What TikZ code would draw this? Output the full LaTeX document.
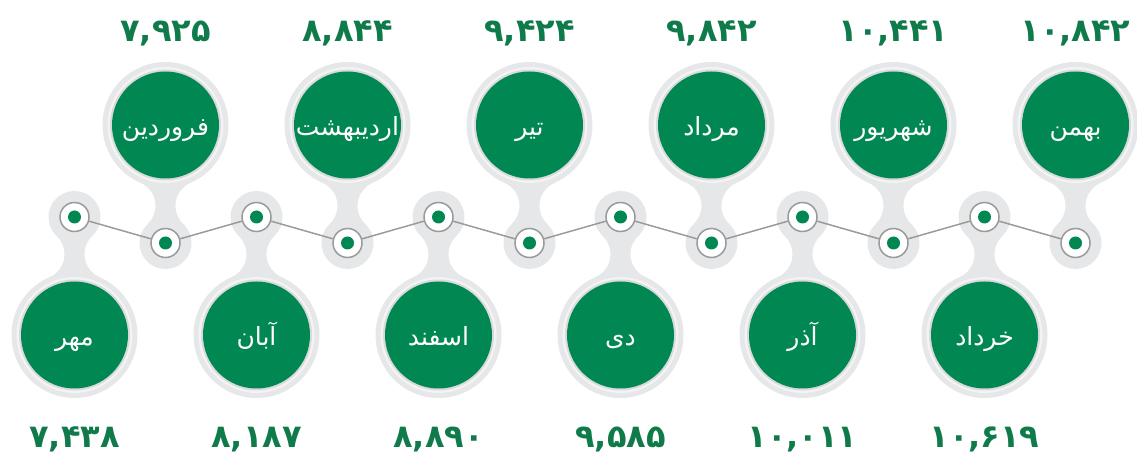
\documentclass[tikz,border=0pt]{standalone}
\usepackage{fontspec}
\TeXXeTstate=1
\newfontfamily\arabicfont[Script=Arabic]{DejaVu Sans}
\definecolor{haloc}{HTML}{E6E7E8}
\definecolor{ringc}{HTML}{F3F3F4}
\definecolor{shadowc}{HTML}{D9DADB}
\definecolor{mgreen}{HTML}{008752}
\definecolor{ngreen}{HTML}{0F7A4A}
\definecolor{lgray}{HTML}{9A9A9A}
\begin{document}
\begin{tikzpicture}[x=1pt,y=1pt,
  halo/.style={fill=haloc},
  monthc/.style={circle,fill=mgreen,minimum size=107pt,inner sep=0pt,text=white,
    text height=22pt,text depth=0pt,
    font=\arabicfont\fontsize{25}{25}\selectfont},
  dotc/.style={circle,fill=white,draw=lgray,line width=1.5pt,minimum size=29pt,inner sep=0pt},
  valc/.style={text=ngreen,inner sep=0pt,text height=22pt,text depth=0pt,
    font=\arabicfont\bfseries\fontsize{32}{32}\selectfont},
  conn/.style={draw=lgray,line width=1.5pt}]
\useasboundingbox (0,0) rectangle (1137,455);
\def\itemlist{{0/مهر/۷,۴۳۸},{1/فروردین/۷,۹۲۵},{2/آبان/۸,۱۸۷},{3/اردیبهشت/۸,۸۴۴},
  {4/اسفند/۸,۸۹۰},{5/تیر/۹,۴۲۴},{6/دی/۹,۵۸۵},{7/مرداد/۹,۸۴۲},{8/آذر/۱۰,۰۱۱},
  {9/شهریور/۱۰,۴۴۱},{10/خرداد/۱۰,۶۱۹},{11/بهمن/۱۰,۸۴۲}}
% gray halos and necks
\foreach \i in {0,...,11}{
  \pgfmathsetmacro\xx{74.5+91*\i}
  \pgfmathsetmacro\ss{2*mod(\i,2)-1}
  \begin{scope}[shift={(\xx,225)},yscale=\ss]
    \fill[halo] (0,105) circle[radius=63];
    \fill[halo] (0,-13) circle[radius=26];
    \fill[halo] (-25.06,47.2) arc[start angle=66.6,end angle=-46.8,radius=25]
      -- (17.84,6.0) arc[start angle=226.8,end angle=113.4,radius=25] -- cycle;
  \end{scope}
}
% circles, dots and values
\foreach \i/\nm/\val in \itemlist{
  \pgfmathsetmacro\xx{74.5+91*\i}
  \pgfmathsetmacro\ss{2*mod(\i,2)-1}
  \pgfmathsetmacro\vy{\ss>0 ? 199 : 206}
  \begin{scope}[shift={(\xx,225)},yscale=\ss]
    \fill[ringc] (0,105) circle[radius=58];
    \fill[shadowc] (0,105) circle[radius=55.5];
    \node[monthc] (c\i) at (0,105) {\beginR \nm\endR};
    \node[dotc] (d\i) at (0,-13) {};
    \fill[mgreen] (d\i.center) circle[radius=6.5];
    \node[valc] (v\i) at (0,\vy) {\val};
  \end{scope}
}
% zigzag connectors
\foreach \i [evaluate=\i as \j using {int(\i+1)}] in {0,...,10}{
  \draw[conn] (d\i) -- (d\j);
}
\end{tikzpicture}
\end{document}
